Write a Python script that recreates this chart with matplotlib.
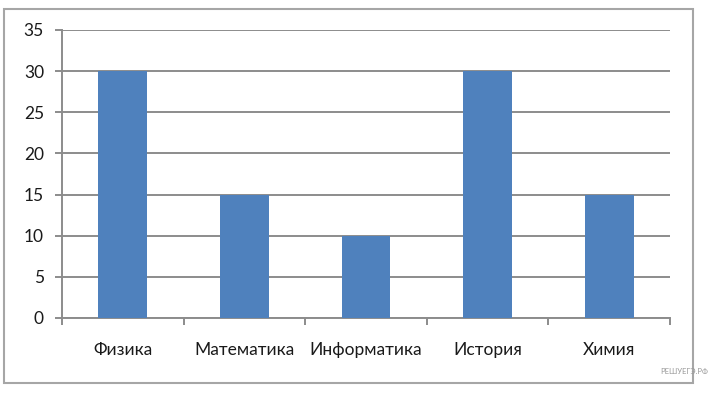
import matplotlib
matplotlib.use("Agg")
import matplotlib.pyplot as plt
from matplotlib.patches import Rectangle

categories = ["Физика", "Математика", "Информатика", "История", "Химия"]
values = [30, 15, 10, 30, 15]
yticks = [0, 5, 10, 15, 20, 25, 30, 35]

plt.rcParams['font.family'] = ['Lato', 'DejaVu Sans']

W, H = 713, 398
fig = plt.figure(figsize=(W/100, H/100), dpi=100)
fig.patch.set_facecolor("white")

# outer border
fig.add_artist(Rectangle((4/W, 1 - 383/H), (693-4)/W, (383-9)/H, transform=fig.transFigure,
                         fill=False, edgecolor="#a6a6a6", linewidth=1.5))

ax = fig.add_axes([62/W, 1 - 318/H, (670-62)/W, (318-30)/H])
x = list(range(len(categories)))
ax.bar(x, values, width=0.4, color="#4f81bd", zorder=3)
ax.set_xlim(-0.5, len(categories) - 0.5)
ax.set_ylim(0, 35)
ax.set_yticks(yticks)
ax.set_yticklabels([str(v) for v in yticks], fontsize=12.5, color="#1a1a1a")
ax.yaxis.grid(True, color="#8c8c8c", linewidth=1.4, zorder=0)
ax.set_axisbelow(True)
for s in ["top", "right"]:
    ax.spines[s].set_visible(False)
for s in ["left", "bottom"]:
    ax.spines[s].set_color("#8c8c8c")
    ax.spines[s].set_linewidth(1.4)
ax.tick_params(axis="y", length=5, color="#8c8c8c", width=1.4, pad=8)
ax.set_xticks([i - 0.5 for i in range(len(categories) + 1)])
ax.set_xticklabels([])
ax.set_xticks(x, minor=True)
ax.set_xticklabels(categories, minor=True, fontsize=12.5, color="#1a1a1a")
ax.tick_params(axis="x", which="major", length=5, color="#8c8c8c", width=1.4)
ax.tick_params(axis="x", which="minor", length=0, pad=17)

fig.text(708/W, 1 - 372/H, "РЕШУЕГЭ.РФ", fontsize=5.5, color="#9a9a9a", ha="right", va="center")

fig.savefig("out.png", dpi=100, facecolor="white")
